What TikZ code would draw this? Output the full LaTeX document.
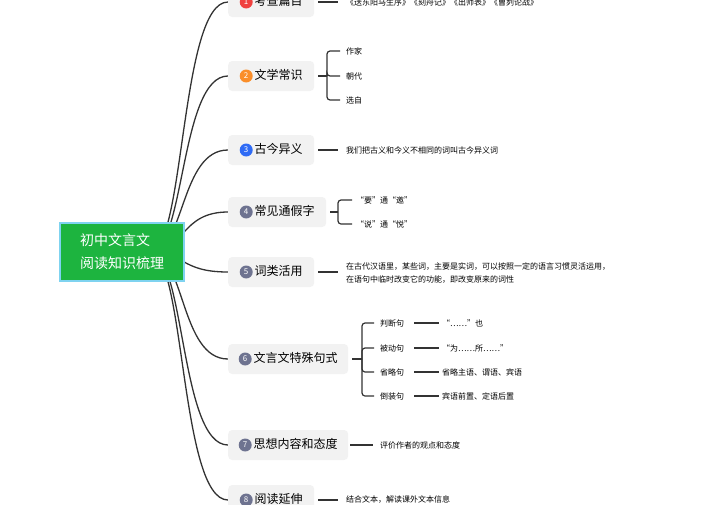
\documentclass[tikz,border=0pt]{standalone}
\usepackage{fontspec}
\setmainfont{Noto Sans CJK SC}
\definecolor{rootgreen}{HTML}{1DB43F}
\definecolor{rootline}{HTML}{7FD3F0}
\definecolor{boxgray}{HTML}{F2F2F2}
\definecolor{linegray}{HTML}{333333}
\definecolor{badgered}{HTML}{F0413F}
\definecolor{badgeorange}{HTML}{FA8E2A}
\definecolor{badgeblue}{HTML}{2F6BF5}
\definecolor{badgegray}{HTML}{6E7390}
\begin{document}
\begin{tikzpicture}[x=1pt,y=-1pt,
  rootnode/.style={fill=rootgreen,draw=rootline,line width=1.2pt,text=white,minimum width=124pt,minimum height=58pt,align=left,font=\fontsize{14}{23}\selectfont},
  branch/.style={fill=boxgray,rounded corners=4pt,minimum height=30pt,anchor=west,inner xsep=3pt,font=\fontsize{12}{12}\selectfont},
  badge/.style={circle,fill=#1,text=white,inner sep=0pt,minimum size=13pt,font=\fontsize{8}{8}\selectfont},
  leaf/.style={anchor=west,inner sep=0pt,font=\fontsize{8}{13}\selectfont,align=left},
  link/.style={draw=linegray,line width=1.3pt},
  twig/.style={draw=linegray,line width=1.2pt,rounded corners=3pt}]
\useasboundingbox (0,0) rectangle (704,504);
% main curves
\coordinate (r) at (150,252);
\foreach \y in {2,76,150,212,272,359,445,500}
  \draw[link] (r) .. controls (185,252) and (180,\y) .. (228,\y);
\node[rootnode] (root) at (122,252) {初中文言文\\阅读知识梳理};
% branches
\newcommand{\branch}[5]{%
  \node[branch,minimum width=#5] (#1) at (228,#2) {\tikz[baseline=-0.6ex]\node[badge=#3]{#4};\,#1};}
\branch{考查篇目}{2}{badgered}{1}{86pt}
\branch{文学常识}{76}{badgeorange}{2}{86pt}
\branch{古今异义}{150}{badgeblue}{3}{86pt}
\branch{常见通假字}{212}{badgegray}{4}{98pt}
\branch{词类活用}{272}{badgegray}{5}{86pt}
\branch{文言文特殊句式}{359}{badgegray}{6}{120pt}
\branch{思想内容和态度}{445}{badgegray}{7}{120pt}
\branch{阅读延伸}{500}{badgegray}{8}{86pt}
% single leaves
\node[leaf] (l1) at (346,2) {《送东阳马生序》《刻舟记》《出师表》《曹刿论战》};
\draw[twig] (318,2) -- (338,2);
\node[leaf] (l3) at (346,150) {我们把古义和今义不相同的词叫古今异义词};
\draw[twig] (318,150) -- (338,150);
\node[leaf] (l5) at (346,273) {在古代汉语里，某些词，主要是实词，可以按照一定的语言习惯灵活运用，\\在语句中临时改变它的功能，即改变原来的词性};
\draw[twig] (318,272) -- (338,272);
\node[leaf] (l7) at (380,445) {评价作者的观点和态度};
\draw[twig] (350,445) -- (373,445);
\node[leaf] (l8) at (346,500) {结合文本，解读课外文本信息};
\draw[twig] (318,500) -- (338,500);
% bracket 2
\foreach \t/\y in {作家/51,朝代/76,选自/100}{
  \node[leaf] (w\y) at (346,\y) {\t};
  \draw[twig] (340,\y) -| (327,76);}
\draw[twig] (318,76) -- (327,76);
% bracket 4
\foreach \t/\y in {“要”通“邀”/200,“说”通“悦”/224}{
  \node[leaf] (t\y) at (356,\y) {\t};
  \draw[twig] (352,\y) -| (338,212);}
\draw[twig] (330,212) -- (338,212);
% bracket 6
\foreach \t/\d/\y in {判断句/“……”也/323,被动句/“为……所……”/348,省略句/省略主语、谓语、宾语/372,倒装句/宾语前置、定语后置/396}{
  \node[leaf] (s\y) at (380,\y) {\t};
  \node[leaf] (d\y) at (442,\y) {\d};
  \draw[twig] (374,\y) -| (362,359);
  \draw[twig] (414,\y) -- (439,\y);}
\draw[twig] (352,359) -- (362,359);
\end{tikzpicture}
\end{document}
